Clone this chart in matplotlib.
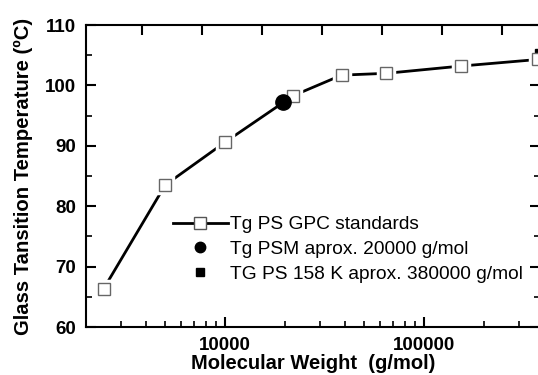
import matplotlib
matplotlib.use("Agg")
import matplotlib.pyplot as plt
from matplotlib.lines import Line2D
from matplotlib.ticker import FixedLocator, NullFormatter, FuncFormatter, MultipleLocator
import numpy as np

plt.rcParams['font.family'] = ['Liberation Sans', 'DejaVu Sans']

# Data
gpc_mw = [2450, 5000, 10000, 22000, 38500, 64500, 153000, 375000]
gpc_tg = [66.3, 83.5, 90.6, 98.3, 101.7, 102.0, 103.2, 104.3]
psm_mw = [19600]
psm_tg = [97.3]
ps158_mw = [385000]
ps158_tg = [105.1]

label_gpc = "Tg PS GPC standards"
label_psm = "Tg PSM aprox. 20000 g/mol"
label_158 = "TG PS 158 K aprox. 380000 g/mol"

xlabel = "Molecular Weight  (g/mol)"
ylabel = "Glass Tansition Temperature (\u00baC)"

W, H = 538, 375
fig = plt.figure(figsize=(W / 100, H / 100), dpi=100)
ax = fig.add_axes([86 / W, 48 / H, 453.5 / W, 302 / H])

ax.set_xscale('log')
ax.set_xlim(2000, 380000)
ax.set_ylim(60, 110)

# main series: line, white halo, open squares
ax.plot(gpc_mw, gpc_tg, '-', color='black', lw=2.0, zorder=2, clip_on=True)
ax.plot(gpc_mw, gpc_tg, 's', ms=11, mfc='white', mec='white', mew=2.5, zorder=3)
ax.plot(gpc_mw, gpc_tg, 's', ms=8.5, mfc='white', mec='#666666', mew=1.0, zorder=4)
ax.plot(ps158_mw, ps158_tg, 's', ms=9, color='black', zorder=3.5)
ax.plot(psm_mw, psm_tg, 'o', ms=11, color='black', zorder=5)

# legend
handles = [
    Line2D([], [], color='black', lw=2.0, marker='s', ms=8, mfc='white', mec='#555555', mew=1.0),
    Line2D([], [], ls='none', marker='o', ms=7.5, color='black'),
    Line2D([], [], ls='none', marker='s', ms=5.5, color='black'),
]
leg = ax.legend(handles, [label_gpc, label_psm, label_158], loc='upper left',
                bbox_to_anchor=(87 / 453.5, 1 - 191 / 302), frameon=False,
                fontsize=13.8, handlelength=2.85, handletextpad=0.1,
                labelspacing=0.38, borderaxespad=0, borderpad=0)

# spines
for s in ax.spines.values():
    s.set_linewidth(1.5)

# ticks
ax.xaxis.set_major_locator(FixedLocator([1e4, 1e5]))
ax.xaxis.set_minor_locator(FixedLocator([3000, 4000, 5000, 6000, 7000, 8000, 9000,
                                          20000, 30000, 40000, 50000, 60000, 70000, 80000, 90000,
                                          200000, 300000]))
ax.xaxis.set_major_formatter(FuncFormatter(lambda v, p: f"{int(round(v))}"))
ax.xaxis.set_minor_formatter(NullFormatter())
ax.yaxis.set_major_locator(MultipleLocator(10))
ax.yaxis.set_minor_locator(MultipleLocator(5))

ax.tick_params(axis='both', which='major', direction='in', length=7, width=1.5,
               labelsize=13.5, pad=7)
ax.tick_params(axis='both', which='minor', direction='in', length=4, width=1.2)
ax.tick_params(axis='y', which='both', right=True)
ax.tick_params(axis='x', which='both', top=False)
for lbl in ax.get_xticklabels() + ax.get_yticklabels():
    lbl.set_fontweight('bold')

# top axis ticks (factor-of-2 spacing)
axt = ax.twiny()
axt.set_xscale('log')
axt.set_xlim(ax.get_xlim())
axt.xaxis.set_major_locator(FixedLocator([3840, 7680, 15360, 30720, 61440, 122880, 245760]))
axt.xaxis.set_minor_locator(FixedLocator([]))
axt.xaxis.set_major_formatter(NullFormatter())
axt.tick_params(axis='x', which='major', direction='in', length=7, width=1.5, top=True)
for s in axt.spines.values():
    s.set_visible(False)

ax.set_xlabel(xlabel, fontsize=14.5, fontweight='bold', labelpad=0)
ax.set_ylabel(ylabel, fontsize=14.6, fontweight='bold')
ax.yaxis.set_label_coords(-(86 - 33) / 453.5, 0.5)

fig.savefig("out.png", dpi=100)
